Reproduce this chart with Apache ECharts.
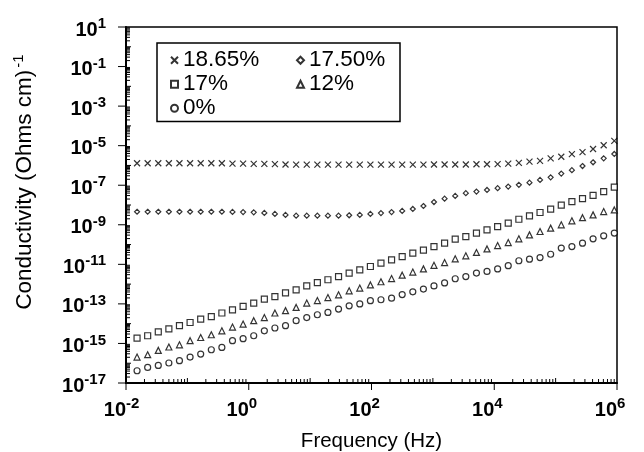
<!DOCTYPE html>
<html>
<head>
<meta charset="utf-8">
<script src="https://cdn.jsdelivr.net/npm/echarts@6.0.0/dist/echarts.min.js"></script>
<style>
  html, body { margin: 0; padding: 0; background: #fff; }
  #chart { width: 644px; height: 452px; }
</style>
</head>
<body>
<div id="chart"></div>
<script>
// frequency of each measured point (Hz)
var freqHz = [0.01514, 0.02254, 0.03357, 0.04995, 0.0743, 0.1107, 0.1648, 0.2455, 0.3648, 0.5433,
  0.8091, 1.205, 1.795, 2.667, 3.972, 5.916, 8.81, 13.12, 19.5, 29.04,
  43.25, 64.42, 95.94, 142.6, 212.3, 316.2, 471, 701.5, 1042, 1552,
  2312, 3443, 5129, 7621, 11350, 16900, 25180, 37500, 55720, 82990,
  123600, 184100, 274200, 407400, 606700, 903600];

// log10 of conductivity (Ohms cm)^-1
var logSigma1865 = [-5.89, -5.89, -5.89, -5.89, -5.89, -5.89, -5.89, -5.89, -5.89,
  -5.91, -5.91, -5.92, -5.92, -5.93,
  -5.95, -5.96, -5.96, -5.96, -5.96, -5.96, -5.96, -5.96, -5.96, -5.96, -5.96, -5.96, -5.96, -5.96, -5.95,
  -5.95, -5.95, -5.95, -5.94, -5.94,
  -5.93, -5.91, -5.87, -5.81, -5.77, -5.64, -5.56, -5.43, -5.33, -5.17, -4.98, -4.76];
var logSigma1750 = [-8.34, -8.34, -8.34, -8.34, -8.34, -8.34, -8.34, -8.34, -8.34, -8.35, -8.36, -8.37,
  -8.40, -8.45, -8.50,
  -8.54, -8.54, -8.54, -8.54, -8.54,
  -8.52, -8.50, -8.45, -8.41, -8.36, -8.30, -8.20, -8.05, -7.85, -7.68,
  -7.54, -7.40, -7.32, -7.24, -7.15, -7.07, -6.98, -6.87, -6.73, -6.60,
  -6.41, -6.24, -6.03, -5.84, -5.64, -5.42];
var logSigma17 = [-14.73, -14.61, -14.41, -14.26, -14.10, -13.94, -13.77, -13.64, -13.46, -13.30,
  -13.13, -12.96, -12.76, -12.63, -12.44, -12.29, -12.09, -11.92, -11.78, -11.62,
  -11.44, -11.28, -11.11, -10.94, -10.77, -10.61, -10.43, -10.28, -10.10, -9.93,
  -9.73, -9.60, -9.42, -9.26, -9.09, -8.92, -8.72, -8.55, -8.38, -8.21,
  -8.01, -7.83, -7.68, -7.51, -7.32, -7.10];
var logSigma12 = [-15.69, -15.57, -15.35, -15.18, -15.07, -14.86, -14.70, -14.56, -14.36, -14.17,
  -14.02, -13.85, -13.69, -13.46, -13.34, -13.18, -12.96, -12.83, -12.68, -12.54,
  -12.34, -12.20, -12.04, -11.88, -11.72, -11.55, -11.39, -11.23, -11.05, -10.91,
  -10.72, -10.57, -10.40, -10.22, -10.05, -9.90, -9.71, -9.51, -9.34, -9.17,
  -9.00, -8.80, -8.64, -8.50, -8.33, -8.25];
var logSigma0 = [-16.38, -16.21, -16.11, -15.99, -15.87, -15.69, -15.54, -15.32, -15.20, -14.86,
  -14.76, -14.61, -14.36, -14.22, -14.10, -13.85, -13.69, -13.55, -13.43, -13.26,
  -13.10, -13.00, -12.84, -12.79, -12.71, -12.53, -12.39, -12.25, -12.09, -11.94,
  -11.73, -11.62, -11.44, -11.36, -11.23, -11.07, -10.82, -10.74, -10.66, -10.49,
  -10.18, -10.10, -9.93, -9.71, -9.56, -9.42];

var seriesNames = ['18.65%', '17.50%', '17%', '12%', '0%'];
var xDecades = [-2, -1, 0, 1, 2, 3, 4, 5, 6];
var yDecades = [-17, -16, -15, -14, -13, -12, -11, -10, -9, -8, -7, -6, -5, -4, -3, -2, -1, 0, 1];

var font = 'Liberation Sans, Arial, Helvetica, sans-serif';
var chart = echarts.init(document.getElementById('chart'));

function pairs(logs) {
  return logs.map(function (v, i) { return [freqHz[i], Math.pow(10, v)]; });
}

// minor / decade ticks drawn through the axes' own scales
var xTicks = [], yTicks = [];
xDecades.forEach(function (d) {
  xTicks.push([Math.pow(10, d), 1e-17, d % 2 === 0 ? 2 : 1]);
  if (d < 6) for (var m = 2; m <= 9; m++) xTicks.push([m * Math.pow(10, d), 1e-17, 0]);
});
yDecades.forEach(function (d) {
  yTicks.push([0.01, Math.pow(10, d), d % 2 !== 0 ? 2 : 1]);
  if (d < 1) for (var m = 2; m <= 9; m++) yTicks.push([0.01, m * Math.pow(10, d), 0]);
});

function tickItem(horizontal) {
  return function (params, api) {
    var p = api.coord([api.value(0), api.value(1)]);
    var kind = api.value(2);
    var len = kind === 2 ? 8 : (kind === 1 ? 5 : 4);
    var shape;
    if (horizontal) {
      shape = kind === 2 ? { x1: p[0], y1: p[1], x2: p[0], y2: p[1] + 7 }
                         : { x1: p[0], y1: p[1], x2: p[0], y2: p[1] - len };
    } else {
      shape = kind === 2 ? { x1: p[0] - len, y1: p[1], x2: p[0], y2: p[1] }
                         : { x1: p[0], y1: p[1], x2: p[0] + len, y2: p[1] };
    }
    return { type: 'line', shape: shape, style: { stroke: '#000', lineWidth: 1 } };
  };
}

var markerStyle = { color: '#fff', borderColor: '#000', borderWidth: 1.2 };
var crossPath = 'path://M0,0L10,10M10,0L0,10';

var option = {
  animation: false,
  backgroundColor: '#fff',
  textStyle: { fontFamily: font, color: '#000' },
  grid: {
    left: 126, right: 27, top: 27, bottom: 69,
    containLabel: false, outerBoundsMode: 'none',
    show: true, borderColor: '#000', borderWidth: 1.5
  },
  legend: [
    {
      data: ['18.65%', '17%', '0%'],
      orient: 'vertical', left: 157, top: 43,
      itemWidth: 7, itemHeight: 7, itemGap: 1,
      padding: [5.75, 0, 1.75, 13],
      backgroundColor: '#fff', borderColor: '#000', borderWidth: 1.5, borderRadius: 0,
      textStyle: { fontFamily: font, fontSize: 22.5, lineHeight: 22.5, width: 217, color: '#000' }
    },
    {
      data: ['17.50%', '12%'],
      orient: 'vertical', left: 296, top: 48.75, z: 6,
      itemWidth: 7, itemHeight: 7, itemGap: 1,
      padding: 0,
      textStyle: { fontFamily: font, fontSize: 22.5, lineHeight: 22.5, color: '#000' }
    }
  ],
  xAxis: {
    type: 'log', logBase: 10, min: 0.01, max: 1e6,
    interval: 1, splitNumber: 8,
    name: 'Frequency (Hz)', nameLocation: 'middle', nameGap: 47,
    nameTextStyle: { fontFamily: font, fontSize: 20.5, lineHeight: 22, color: '#000' },
    axisLine: { lineStyle: { color: '#000', width: 2 } },
    axisTick: { show: false },
    splitLine: { show: false },
    axisLabel: {
      margin: 14, showMinLabel: true, showMaxLabel: true,
      formatter: function (v) {
        var e = Math.round(Math.log10(v));
        if (e % 2 !== 0) return '';
        // spacer keeps the right edge of "10" on the tick
        return '{b|10}{s|' + e + '}' + (e < 0 ? '{p2| }' : '{p1| }');
      },
      rich: {
        b: { fontFamily: font, fontSize: 20, fontWeight: 'bold', lineHeight: 20, padding: [6, 0, 0, 0], color: '#000' },
        s: { fontFamily: font, fontSize: 15, fontWeight: 'bold', lineHeight: 15, padding: [0, 0, 6, 0], color: '#000' },
        p1: { fontSize: 15, lineHeight: 15, width: 13.9 },
        p2: { fontSize: 15, lineHeight: 15, width: 8.9 }
      }
    }
  },
  yAxis: {
    type: 'log', logBase: 10, min: 1e-17, max: 10,
    interval: 1, splitNumber: 18,
    name: '{t|Conductivity (Ohms cm)}{s|-1}', nameLocation: 'middle', nameGap: 88.5,
    nameTextStyle: {
      padding: [0, 0, 0, 46],
      rich: {
        t: { fontFamily: font, fontSize: 22.5, lineHeight: 26, color: '#000' },
        s: { fontFamily: font, fontSize: 15, lineHeight: 15, padding: [0, 0, 11, 2], color: '#000' }
      }
    },
    axisLine: { lineStyle: { color: '#000', width: 2 } },
    axisTick: { show: false },
    splitLine: { show: false },
    axisLabel: {
      margin: 20, showMinLabel: true, showMaxLabel: true,
      formatter: function (v) {
        var e = Math.round(Math.log10(v));
        return e % 2 !== 0 ? '{b|10}{s|' + e + '}' : '';
      },
      rich: {
        b: { fontFamily: font, fontSize: 20, fontWeight: 'bold', lineHeight: 20, padding: [6, 0, 0, 0], color: '#000' },
        s: { fontFamily: font, fontSize: 15, fontWeight: 'bold', lineHeight: 15, padding: [0, 0, 6, 0], color: '#000' }
      }
    }
  },
  series: [
    { name: seriesNames[0], type: 'scatter', symbol: crossPath, symbolSize: 6, itemStyle: markerStyle, data: pairs(logSigma1865) },
    { name: seriesNames[1], type: 'scatter', symbol: 'diamond', symbolSize: 5, itemStyle: markerStyle, data: pairs(logSigma1750) },
    { name: seriesNames[2], type: 'scatter', symbol: 'rect', symbolSize: 6, itemStyle: markerStyle, data: pairs(logSigma17) },
    { name: seriesNames[3], type: 'scatter', symbol: 'triangle', symbolSize: 6, itemStyle: markerStyle, data: pairs(logSigma12) },
    { name: seriesNames[4], type: 'scatter', symbol: 'circle', symbolSize: 6, itemStyle: markerStyle, data: pairs(logSigma0) },
    { name: 'xTicks', type: 'custom', silent: true, clip: false, z: 5, encode: { x: 0, y: 1 }, renderItem: tickItem(true), data: xTicks },
    { name: 'yTicks', type: 'custom', silent: true, clip: false, z: 5, encode: { x: 0, y: 1 }, renderItem: tickItem(false), data: yTicks }
  ]
};

chart.setOption(option);
</script>
</body>
</html>
